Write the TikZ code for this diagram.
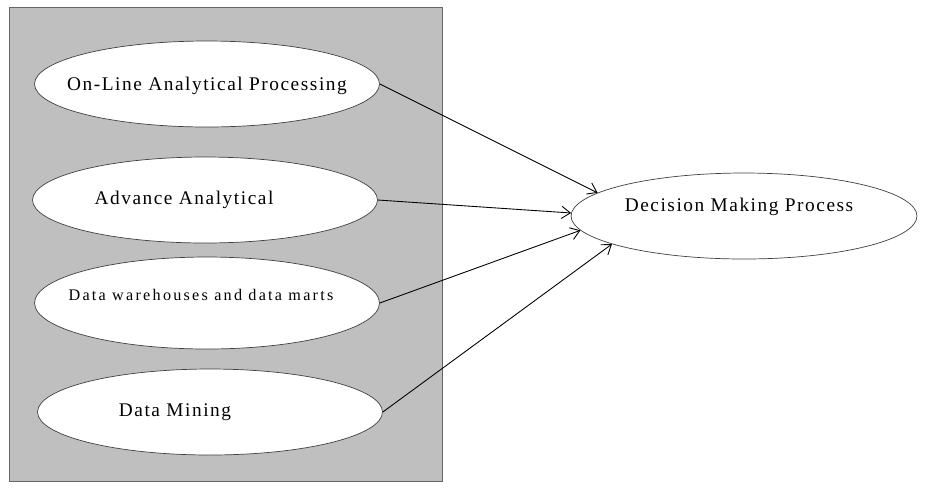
\documentclass[tikz,border=0pt]{standalone}
\usepackage{fontspec}
\setmainfont{Liberation Serif}
\newfontfamily\spaced[LetterSpace=8]{Liberation Serif}
\newfontfamily\wide[LetterSpace=14]{Liberation Serif}
\usetikzlibrary{shapes.geometric,arrows.meta}

\tikzset{
  tool/.style={ellipse, draw=black!75, fill=white, minimum width=6.9cm,
    minimum height=1.72cm, inner sep=0pt},
  goal/.style={tool, minimum width=6.92cm, minimum height=1.72cm},
  lbl/.style={font=\spaced\fontsize{11}{13}\selectfont},
  small/.style={font=\wide\fontsize{9.2}{11}\selectfont},
  feed/.style={-{Straight Barb[length=5pt,width=7pt]}, line width=0.5pt},
}

\begin{document}
\begin{tikzpicture}[x=0.02cm,y=-0.02cm]
  \fill[white] (0,0) rectangle (925,488);
  % grey panel holding the four tools
  \draw[black!60, fill=black!25] (9,7) rectangle (442,481);

  \node[tool] (olap) at (207,84) {};
  \node[tool] (adv) at (205,200) {};
  \node[tool, minimum height=1.84cm] (dw) at (207,303) {};
  \node[tool] (mine) at (210,412) {};
  \node[goal] (dmp) at (744,216) {};

  \node[lbl] (olap-t) at (207,86) {On-Line Analytical Processing};
  \node[lbl] (adv-t) at (184,200) {Advance Analytical};
  \node[small] (dw-t) at (201,295) {Data warehouses and data marts};
  \node[lbl] (mine-t) at (175,412) {Data Mining};
  \node[lbl] (dmp-t) at (739,207) {Decision Making Process};

  \draw[feed] (olap.east) -- (dmp.171);
  \draw[feed] (adv.east) -- (dmp.179);
  \draw[feed] (dw.east) -- (dmp.185);
  \draw[feed] (mine.east) -- (dmp.192);
\end{tikzpicture}
\end{document}
